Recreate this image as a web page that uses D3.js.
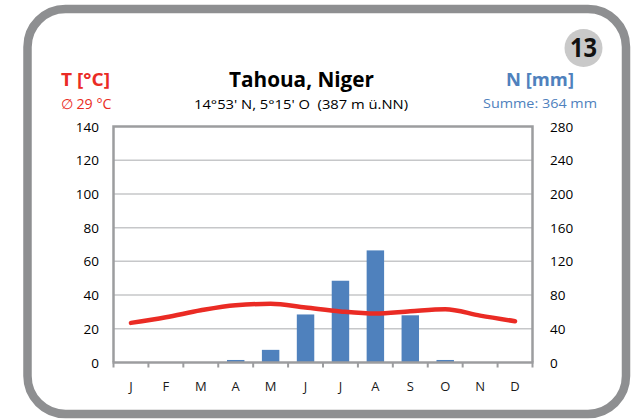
<!DOCTYPE html>
<html>
<head>
<meta charset="utf-8">
<script src="https://cdn.jsdelivr.net/npm/d3@7"></script>
<style>
  body { margin: 0; background: #fff; }
  svg { display: block; font-family: "Open Sans", sans-serif; }
</style>
</head>
<body>
<script>
// climate data, Tahoua (Niger)
const months = ['J', 'F', 'M', 'A', 'M', 'J', 'J', 'A', 'S', 'O', 'N', 'D']
const temperature = [23.5, 26.8, 31, 34, 34.8, 32.6, 30.3, 29, 30.4, 31.6, 27.8, 24.5]
const precipitation = [0, 0, 0, 3, 15, 57, 97, 133, 56, 3, 0, 0]
const tempTicks = [0, 20, 40, 60, 80, 100, 120, 140]
const precTicks = [0, 40, 80, 120, 160, 200, 240, 280]

const width = 637, height = 419
const red = '#ea2b24', blue = '#4f81bd'

let svg = d3.select('body').append('svg')
  .attr('width', width)
  .attr('height', height)

// card frame
svg.append('rect')
  .attr('x', 27.5).attr('y', 9)
  .attr('width', 598.5).attr('height', 405)
  .attr('rx', 38).attr('ry', 38)
  .attr('fill', '#fff')
  .attr('stroke', '#8e8f91')
  .attr('stroke-width', 8.5)

// number badge
svg.append('circle')
  .attr('cx', 583.5).attr('cy', 48).attr('r', 19)
  .attr('fill', '#c9c9c9')
svg.append('text')
  .attr('x', 583.5).attr('y', 57)
  .attr('text-anchor', 'middle')
  .attr('textLength', 27).attr('lengthAdjust', 'spacingAndGlyphs')
  .style('font-size', '26px').style('font-weight', 'bold')
  .attr('fill', '#111')
  .text('13')

// headings
svg.append('text')
  .attr('x', 301.5).attr('y', 86.5)
  .attr('text-anchor', 'middle')
  .attr('textLength', 145).attr('lengthAdjust', 'spacingAndGlyphs')
  .style('font-size', '22px').style('font-weight', 'bold')
  .attr('fill', '#000')
  .text('Tahoua, Niger')
svg.append('text')
  .attr('x', 301).attr('y', 108.5)
  .attr('text-anchor', 'middle')
  .attr('textLength', 214).attr('lengthAdjust', 'spacingAndGlyphs')
  .style('font-size', '13px')
  .attr('fill', '#000')
  .style('white-space', 'pre')
  .text('14°53\' N, 5°15\' O  (387 m ü.NN)')

svg.append('text')
  .attr('x', 85.5).attr('y', 86)
  .attr('text-anchor', 'middle')
  .attr('textLength', 49).attr('lengthAdjust', 'spacingAndGlyphs')
  .style('font-size', '18.5px').style('font-weight', 'bold')
  .attr('fill', red)
  .text('T [°C]')
svg.append('text')
  .attr('x', 86).attr('y', 108.5)
  .attr('text-anchor', 'middle')
  .attr('textLength', 51).attr('lengthAdjust', 'spacingAndGlyphs')
  .style('font-size', '14px')
  .attr('fill', red)
  .text('∅ 29 °C')

svg.append('text')
  .attr('x', 540).attr('y', 85.5)
  .attr('text-anchor', 'middle')
  .attr('textLength', 68).attr('lengthAdjust', 'spacingAndGlyphs')
  .style('font-size', '18.5px').style('font-weight', 'bold')
  .attr('fill', blue)
  .text('N [mm]')
svg.append('text')
  .attr('x', 540).attr('y', 108)
  .attr('text-anchor', 'middle')
  .attr('textLength', 114).attr('lengthAdjust', 'spacingAndGlyphs')
  .style('font-size', '13.5px')
  .attr('fill', blue)
  .text('Summe: 364 mm')

// scales
const plotLeft = 113.5, plotRight = 532.5, plotTop = 126.5, plotBottom = 362.5
let x = d3.scaleBand().domain(d3.range(12)).range([plotLeft, plotRight]).paddingInner(0.5).paddingOuter(0.25)
let xBand = d3.scaleBand().domain(d3.range(12)).range([plotLeft, plotRight])
let yT = d3.scaleLinear().domain([0, 140]).range([plotBottom, plotTop])
let yP = d3.scaleLinear().domain([0, 280]).range([plotBottom, plotTop])

let plot = svg.append('g').attr('id', 'plot')

// gridlines
plot.append('g').selectAll('line')
  .data(tempTicks.filter(t => t > 0 && t < 140))
  .join('line')
  .attr('x1', plotLeft).attr('x2', plotRight)
  .attr('y1', d => yT(d)).attr('y2', d => yT(d))
  .attr('stroke', '#c6c7c9').attr('stroke-width', 1.5)

// bars
plot.append('g').selectAll('rect')
  .data(precipitation)
  .join('rect')
  .attr('x', (d, i) => x(i))
  .attr('width', x.bandwidth())
  .attr('y', d => yP(d))
  .attr('height', d => plotBottom - yP(d))
  .attr('fill', blue)

// frame: top, left, right
plot.append('path')
  .attr('d', `M${plotLeft},${plotBottom}V${plotTop}H${plotRight}V${plotBottom}`)
  .attr('fill', 'none')
  .attr('stroke', '#9c9d9f').attr('stroke-width', 2.5)

// x axis with ticks between months
let xAxis = plot.append('g').attr('transform', `translate(0,${plotBottom})`)
xAxis.append('line')
  .attr('x1', plotLeft - 1).attr('x2', plotRight + 1)
  .attr('stroke', '#9c9d9f').attr('stroke-width', 2.5)
xAxis.selectAll('line.tick')
  .data(d3.range(13))
  .join('line')
  .attr('class', 'tick')
  .attr('x1', i => plotLeft + i * xBand.step()).attr('x2', i => plotLeft + i * xBand.step())
  .attr('y1', 0).attr('y2', 5)
  .attr('stroke', '#9c9d9f').attr('stroke-width', 2)
xAxis.selectAll('text')
  .data(months)
  .join('text')
  .attr('x', (d, i) => xBand(i) + xBand.bandwidth() / 2)
  .attr('y', 28)
  .attr('text-anchor', 'middle')
  .style('font-size', '13px')
  .attr('fill', '#1a1a1a')
  .text(d => d)

// y labels
plot.append('g').selectAll('text')
  .data(tempTicks)
  .join('text')
  .attr('x', 99).attr('y', d => yT(d) + 5)
  .attr('text-anchor', 'end')
  .style('font-size', '13.5px')
  .attr('fill', '#000')
  .text(d => d)
plot.append('g').selectAll('text')
  .data(precTicks)
  .join('text')
  .attr('x', 550).attr('y', d => yP(d) + 5)
  .attr('text-anchor', 'start')
  .style('font-size', '13.5px')
  .attr('fill', '#000')
  .text(d => d)

// temperature line
let line = d3.line()
  .x((d, i) => xBand(i) + xBand.bandwidth() / 2)
  .y(d => yT(d))
  .curve(d3.curveMonotoneX)
plot.append('path')
  .datum(temperature)
  .attr('d', line)
  .attr('fill', 'none')
  .attr('stroke', red)
  .attr('stroke-width', 4.5)
  .attr('stroke-linecap', 'round')
  .attr('stroke-linejoin', 'round')
</script>
</body>
</html>
